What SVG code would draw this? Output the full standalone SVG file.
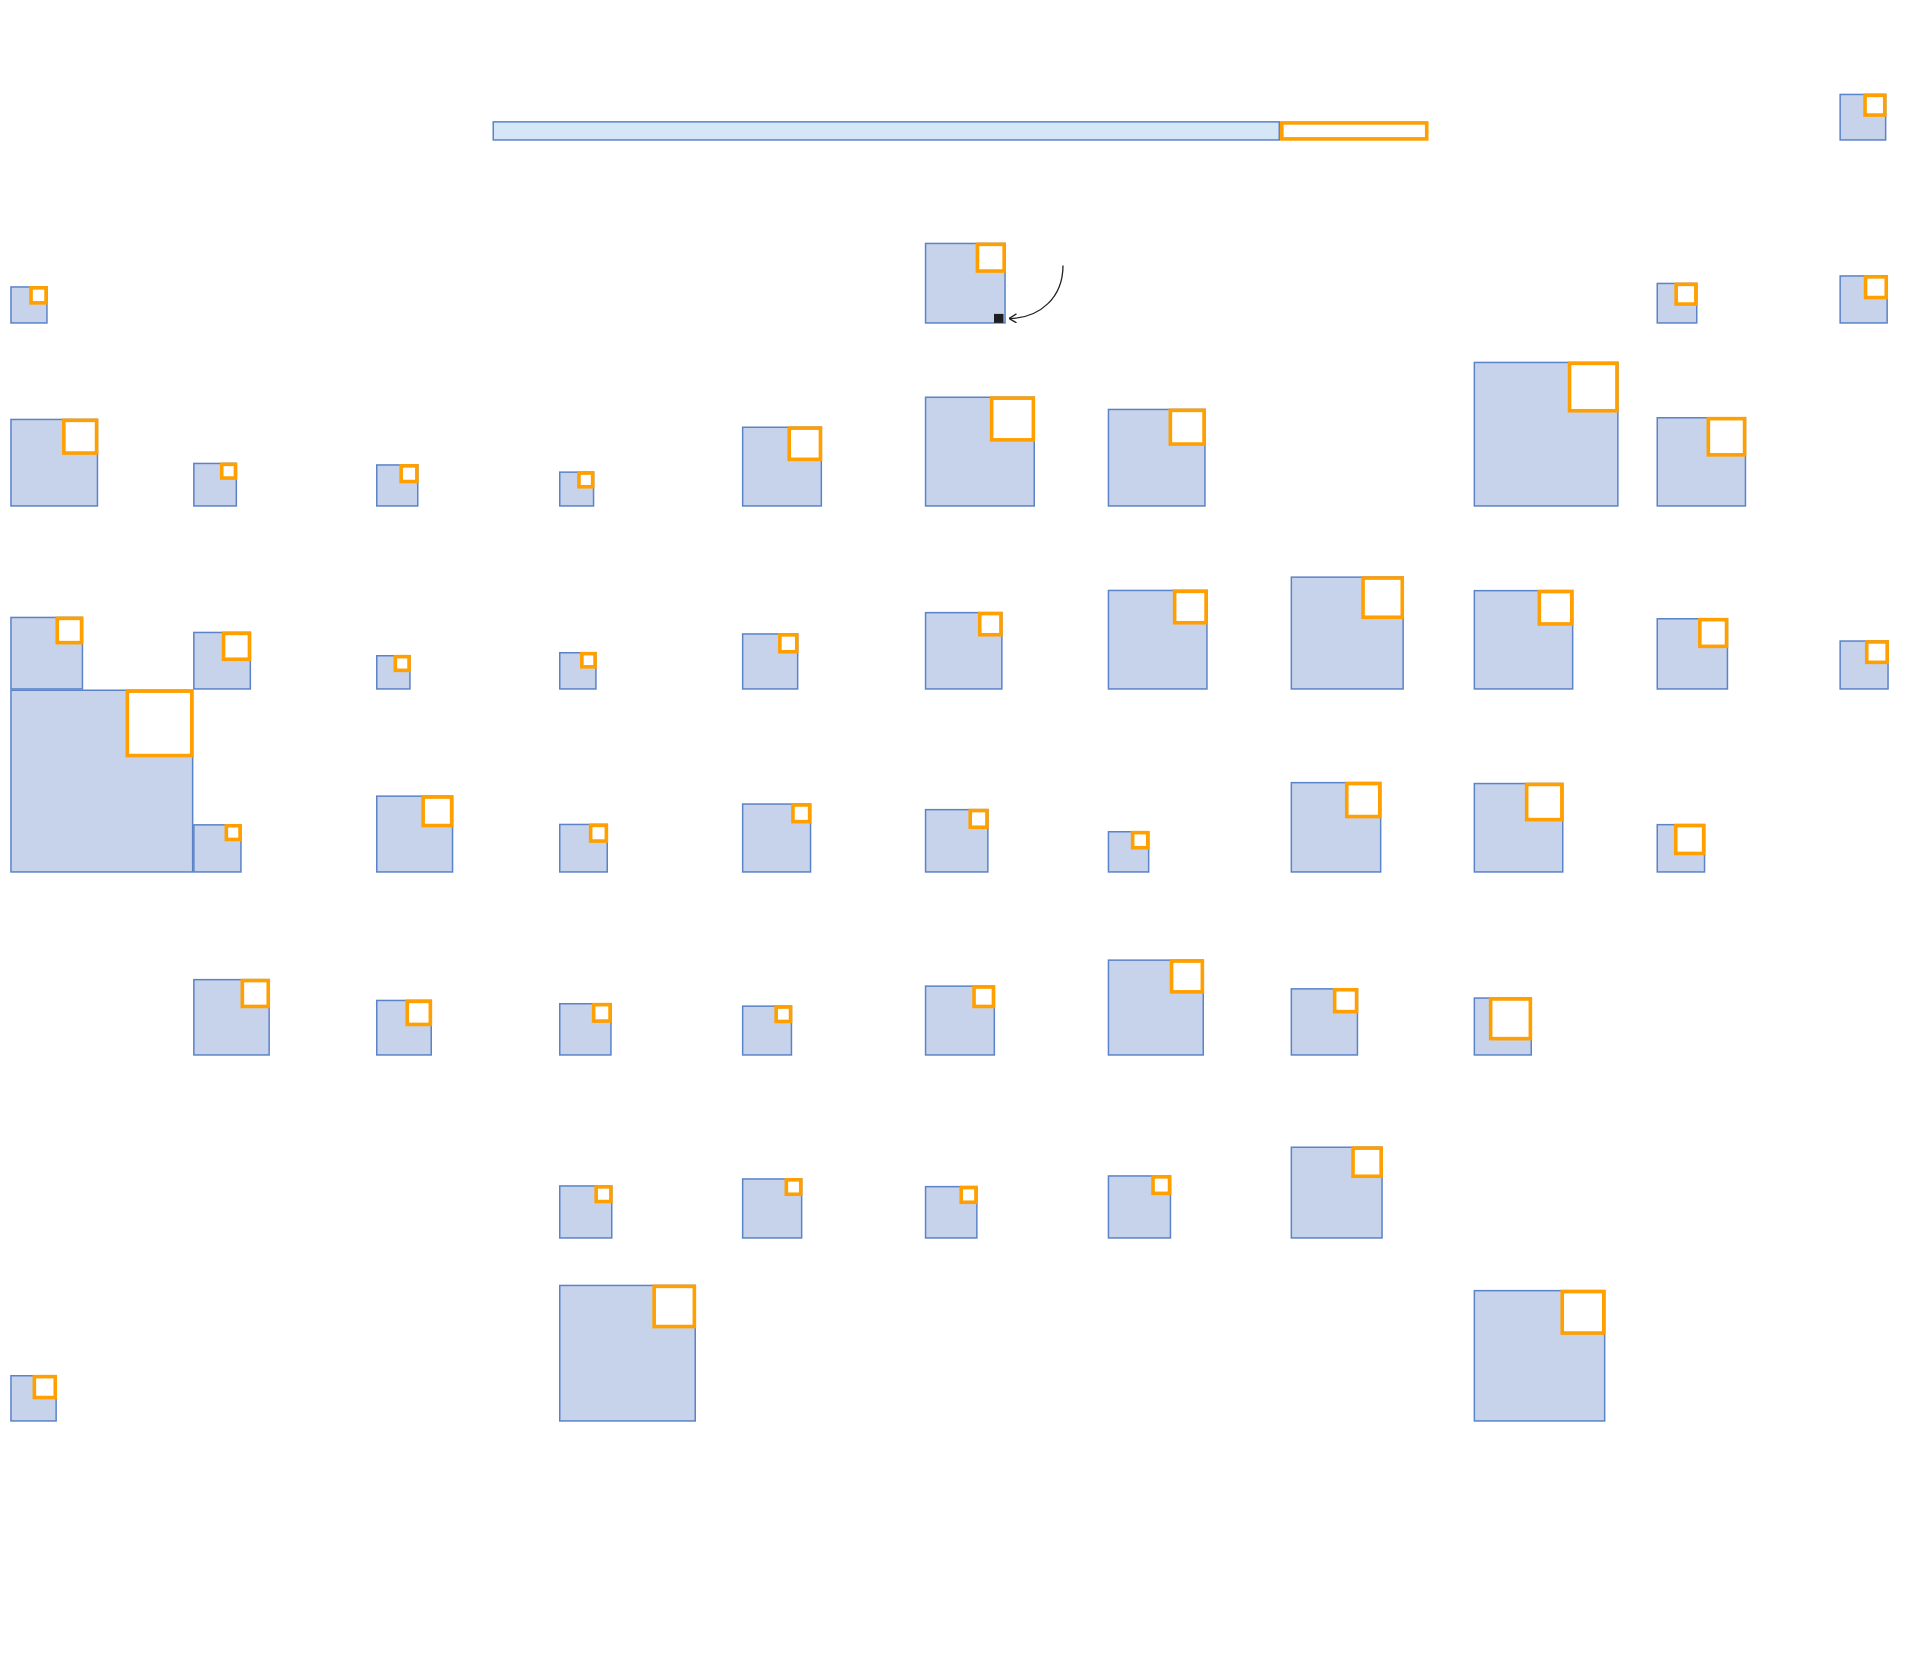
<svg xmlns="http://www.w3.org/2000/svg" width="1920" height="1654" viewBox="0 0 1920 1654">
<style>
.b{fill:#C7D3EA;stroke:#5B83C7;stroke-width:1.5}
.bar{fill:#D5E7F6;stroke:#5B83C7;stroke-width:1.5}
.o{fill:#FFFFFF;stroke:#FFA000;stroke-width:3.6}
.k{fill:#1E1E1E}
.c{fill:none;stroke:#222222;stroke-width:1.3}
</style>
<defs>
<marker id="arr" markerUnits="userSpaceOnUse" markerWidth="10" markerHeight="10" viewBox="0 0 10 10" refX="9.5" refY="5" orient="auto">
<path d="M2,0.5 L9.5,5 L2,9.5" fill="none" stroke="#222222" stroke-width="1.3"/>
</marker>
</defs>
<rect width="1920" height="1654" fill="#FFFFFF"/>
<g transform="translate(0,0.4)">
<g id="bar"><rect class="bar" x="493.25" y="121.45" width="786" height="18.1"/><rect class="o" x="1281.8" y="122.5" width="144.9" height="16"/></g>
<g id="n10-0"><rect class="b" x="1840.15" y="94.05" width="45.5" height="45.5"/><rect class="o" x="1865.05" y="94.95" width="19.7" height="19.7"/></g>
<g id="n0-1"><rect class="b" x="10.95" y="286.55" width="36" height="36"/><rect class="o" x="31.05" y="287.45" width="15" height="15"/></g>
<g id="n5-1"><rect class="b" x="925.55" y="243.05" width="79.5" height="79.5"/><rect class="o" x="977.45" y="243.95" width="26.7" height="26.7"/><rect class="k" x="994" y="313.5" width="9.5" height="9"/></g>
<g id="n9-1"><rect class="b" x="1657.25" y="283.05" width="39.5" height="39.5"/><rect class="o" x="1676.15" y="283.95" width="19.7" height="19.7"/></g>
<g id="n10-1"><rect class="b" x="1840.15" y="275.55" width="47" height="47"/><rect class="o" x="1865.55" y="276.45" width="20.7" height="20.7"/></g>
<g id="n0-2"><rect class="b" x="10.95" y="419.05" width="86.5" height="86.5"/><rect class="o" x="63.85" y="419.95" width="32.7" height="32.7"/></g>
<g id="n1-2"><rect class="b" x="193.85" y="463.05" width="42.5" height="42.5"/><rect class="o" x="221.75" y="463.95" width="13.7" height="13.7"/></g>
<g id="n2-2"><rect class="b" x="376.75" y="464.55" width="41" height="41"/><rect class="o" x="401.15" y="465.45" width="15.7" height="15.7"/></g>
<g id="n3-2"><rect class="b" x="559.75" y="471.75" width="33.8" height="33.8"/><rect class="o" x="578.95" y="472.65" width="13.7" height="13.7"/></g>
<g id="n4-2"><rect class="b" x="742.65" y="426.85" width="78.7" height="78.7"/><rect class="o" x="789.25" y="427.75" width="31.2" height="31.2"/></g>
<g id="n5-2"><rect class="b" x="925.55" y="396.85" width="108.7" height="108.7"/><rect class="o" x="991.65" y="397.75" width="41.7" height="41.7"/></g>
<g id="n6-2"><rect class="b" x="1108.45" y="409.05" width="96.5" height="96.5"/><rect class="o" x="1170.35" y="409.95" width="33.7" height="33.7"/></g>
<g id="n8-2"><rect class="b" x="1474.35" y="362.05" width="143.5" height="143.5"/><rect class="o" x="1569.55" y="362.95" width="47.4" height="47.4"/></g>
<g id="n9-2"><rect class="b" x="1657.25" y="417.35" width="88.2" height="88.2"/><rect class="o" x="1708.35" y="418.25" width="36.2" height="36.2"/></g>
<g id="n0-3"><rect class="b" x="10.95" y="617.05" width="71.5" height="71.5"/><rect class="o" x="57.25" y="617.95" width="24.3" height="24.3"/></g>
<g id="n1-3"><rect class="b" x="193.85" y="632.05" width="56.5" height="56.5"/><rect class="o" x="223.55" y="632.95" width="25.9" height="25.9"/></g>
<g id="n2-3"><rect class="b" x="376.75" y="655.35" width="33.2" height="33.2"/><rect class="o" x="395.35" y="656.25" width="13.7" height="13.7"/></g>
<g id="n3-3"><rect class="b" x="559.75" y="652.35" width="36.2" height="36.2"/><rect class="o" x="581.85" y="653.25" width="13.2" height="13.2"/></g>
<g id="n4-3"><rect class="b" x="742.65" y="633.55" width="55" height="55"/><rect class="o" x="779.85" y="634.45" width="16.9" height="16.9"/></g>
<g id="n5-3"><rect class="b" x="925.55" y="612.25" width="76.3" height="76.3"/><rect class="o" x="979.75" y="613.15" width="21.2" height="21.2"/></g>
<g id="n6-3"><rect class="b" x="1108.45" y="590.05" width="98.5" height="98.5"/><rect class="o" x="1174.65" y="590.95" width="31.4" height="31.4"/></g>
<g id="n7-3"><rect class="b" x="1291.35" y="576.75" width="111.8" height="111.8"/><rect class="o" x="1363.05" y="577.65" width="39.2" height="39.2"/></g>
<g id="n8-3"><rect class="b" x="1474.35" y="590.25" width="98.3" height="98.3"/><rect class="o" x="1539.35" y="591.15" width="32.4" height="32.4"/></g>
<g id="n9-3"><rect class="b" x="1657.25" y="618.35" width="70.2" height="70.2"/><rect class="o" x="1699.85" y="619.25" width="26.7" height="26.7"/></g>
<g id="n10-3"><rect class="b" x="1840.15" y="640.65" width="47.9" height="47.9"/><rect class="o" x="1866.75" y="641.55" width="20.4" height="20.4"/></g>
<g id="n0-4"><rect class="b" x="10.95" y="689.85" width="181.7" height="181.7"/><rect class="o" x="127.35" y="690.75" width="64.4" height="64.4"/></g>
<g id="n1-4"><rect class="b" x="193.85" y="824.45" width="47.1" height="47.1"/><rect class="o" x="226.35" y="825.35" width="13.7" height="13.7"/></g>
<g id="n2-4"><rect class="b" x="376.75" y="795.75" width="75.8" height="75.8"/><rect class="o" x="423.15" y="796.65" width="28.5" height="28.5"/></g>
<g id="n3-4"><rect class="b" x="559.75" y="824.05" width="47.5" height="47.5"/><rect class="o" x="590.65" y="824.95" width="15.7" height="15.7"/></g>
<g id="n4-4"><rect class="b" x="742.65" y="803.65" width="67.9" height="67.9"/><rect class="o" x="792.95" y="804.55" width="16.7" height="16.7"/></g>
<g id="n5-4"><rect class="b" x="925.55" y="809.25" width="62.3" height="62.3"/><rect class="o" x="970.25" y="810.15" width="16.7" height="16.7"/></g>
<g id="n6-4"><rect class="b" x="1108.45" y="831.35" width="40.2" height="40.2"/><rect class="o" x="1132.65" y="832.25" width="15.1" height="15.1"/></g>
<g id="n7-4"><rect class="b" x="1291.35" y="782.25" width="89.3" height="89.3"/><rect class="o" x="1346.75" y="783.15" width="33" height="33"/></g>
<g id="n8-4"><rect class="b" x="1474.35" y="783.15" width="88.4" height="88.4"/><rect class="o" x="1526.65" y="784.05" width="35.2" height="35.2"/></g>
<g id="n9-4"><rect class="b" x="1657.25" y="824.25" width="47.3" height="47.3"/><rect class="o" x="1675.75" y="825.15" width="27.9" height="27.9"/></g>
<g id="n1-5"><rect class="b" x="193.85" y="979.25" width="75.3" height="75.3"/><rect class="o" x="242.35" y="980.15" width="25.9" height="25.9"/></g>
<g id="n2-5"><rect class="b" x="376.75" y="1000.05" width="54.5" height="54.5"/><rect class="o" x="407.25" y="1000.95" width="23.1" height="23.1"/></g>
<g id="n3-5"><rect class="b" x="559.75" y="1003.35" width="51.2" height="51.2"/><rect class="o" x="593.65" y="1004.25" width="16.4" height="16.4"/></g>
<g id="n4-5"><rect class="b" x="742.65" y="1005.75" width="48.8" height="48.8"/><rect class="o" x="776.15" y="1006.65" width="14.4" height="14.4"/></g>
<g id="n5-5"><rect class="b" x="925.55" y="985.75" width="68.8" height="68.8"/><rect class="o" x="974.05" y="986.65" width="19.4" height="19.4"/></g>
<g id="n6-5"><rect class="b" x="1108.45" y="959.75" width="94.8" height="94.8"/><rect class="o" x="1171.55" y="960.65" width="30.8" height="30.8"/></g>
<g id="n7-5"><rect class="b" x="1291.35" y="988.45" width="66.1" height="66.1"/><rect class="o" x="1334.65" y="989.35" width="21.9" height="21.9"/></g>
<g id="n8-5"><rect class="b" x="1474.35" y="997.65" width="56.9" height="56.9"/><rect class="o" x="1490.65" y="998.55" width="39.7" height="39.7"/></g>
<g id="n3-6"><rect class="b" x="559.75" y="1185.55" width="52" height="52"/><rect class="o" x="596.15" y="1186.45" width="14.7" height="14.7"/></g>
<g id="n4-6"><rect class="b" x="742.65" y="1178.55" width="59" height="59"/><rect class="o" x="786.35" y="1179.45" width="14.4" height="14.4"/></g>
<g id="n5-6"><rect class="b" x="925.55" y="1186.25" width="51.3" height="51.3"/><rect class="o" x="961.25" y="1187.15" width="14.7" height="14.7"/></g>
<g id="n6-6"><rect class="b" x="1108.45" y="1175.55" width="62" height="62"/><rect class="o" x="1153.05" y="1176.45" width="16.5" height="16.5"/></g>
<g id="n7-6"><rect class="b" x="1291.35" y="1146.85" width="90.7" height="90.7"/><rect class="o" x="1353.05" y="1147.75" width="28.1" height="28.1"/></g>
<g id="n0-7"><rect class="b" x="10.95" y="1375.35" width="45.2" height="45.2"/><rect class="o" x="34.35" y="1376.25" width="20.9" height="20.9"/></g>
<g id="n3-7"><rect class="b" x="559.75" y="1285.05" width="135.5" height="135.5"/><rect class="o" x="654.15" y="1285.95" width="40.2" height="40.2"/></g>
<g id="n8-7"><rect class="b" x="1474.35" y="1290.25" width="130.3" height="130.3"/><rect class="o" x="1562.25" y="1291.15" width="41.5" height="41.5"/></g>
<g id="connectors">
<path class="c" d="M1063,265 C1063,297 1040,318 1009,318" marker-end="url(#arr)"/>
</g>
</g>
</svg>
